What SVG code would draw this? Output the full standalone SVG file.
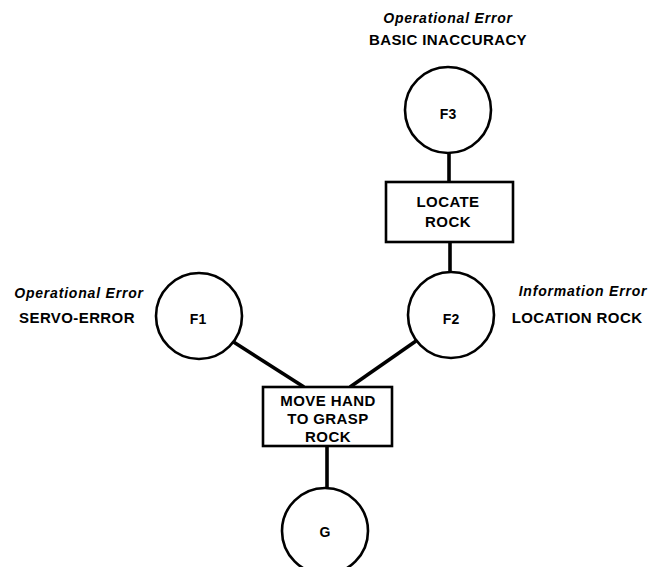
<svg xmlns="http://www.w3.org/2000/svg" width="656" height="567" viewBox="0 0 656 567">
  <style>
    .state { fill: #ffffff; stroke: #000000; stroke-width: 2.6; }
    .task { fill: #ffffff; stroke: #000000; stroke-width: 2.6; }
    .link { stroke: #000000; stroke-width: 3.6; fill: none; }
    .lbl { font-family: "Liberation Sans", Arial, sans-serif; font-weight: bold; font-size: 15px; fill: #000000; text-anchor: middle; letter-spacing: 0.4px; }
    .node { font-family: "Liberation Sans", Arial, sans-serif; font-weight: bold; font-size: 14px; fill: #000000; text-anchor: middle; }
    .kind { font-family: "Liberation Sans", Arial, sans-serif; font-weight: bold; font-style: italic; font-size: 14px; fill: #000000; text-anchor: middle; letter-spacing: 0.8px; }
  </style>
  <rect width="656" height="567" fill="#ffffff"/>

  <!-- connectors -->
  <g id="connectors">
    <line class="link" x1="449" y1="153" x2="449" y2="182"/>
    <line class="link" x1="450" y1="242" x2="450" y2="272"/>
    <line class="link" x1="232" y1="341" x2="304" y2="387"/>
    <line class="link" x1="416" y1="341" x2="350" y2="387"/>
    <line class="link" x1="327" y1="446" x2="327" y2="488"/>
  </g>

  <!-- error annotations -->
  <g id="label-f3">
    <text class="kind" x="448" y="23">Operational Error</text>
    <text class="lbl" x="448" y="45">BASIC INACCURACY</text>
  </g>
  <g id="label-f1">
    <text class="kind" x="79" y="298">Operational Error</text>
    <text class="lbl" x="77" y="323">SERVO-ERROR</text>
  </g>
  <g id="label-f2">
    <text class="kind" x="583" y="296">Information Error</text>
    <text class="lbl" x="577" y="323">LOCATION ROCK</text>
  </g>

  <!-- nodes -->
  <g id="F3">
    <circle class="state" cx="448" cy="110" r="43"/>
    <text class="node" x="448" y="119">F3</text>
  </g>
  <g id="locate-rock">
    <rect class="task" x="386" y="182" width="127" height="60"/>
    <text class="lbl" x="448" y="207">LOCATE</text>
    <text class="lbl" x="448" y="227">ROCK</text>
  </g>
  <g id="F2">
    <circle class="state" cx="451" cy="315" r="43"/>
    <text class="node" x="451" y="324">F2</text>
  </g>
  <g id="F1">
    <circle class="state" cx="199" cy="316" r="43"/>
    <text class="node" x="198" y="324">F1</text>
  </g>
  <g id="move-hand">
    <rect class="task" x="263" y="387" width="129" height="59"/>
    <text class="lbl" x="328" y="406">MOVE HAND</text>
    <text class="lbl" x="328" y="424">TO GRASP</text>
    <text class="lbl" x="328" y="442">ROCK</text>
  </g>
  <g id="G">
    <circle class="state" cx="325" cy="531" r="43"/>
    <text class="node" x="325" y="537">G</text>
  </g>
</svg>
